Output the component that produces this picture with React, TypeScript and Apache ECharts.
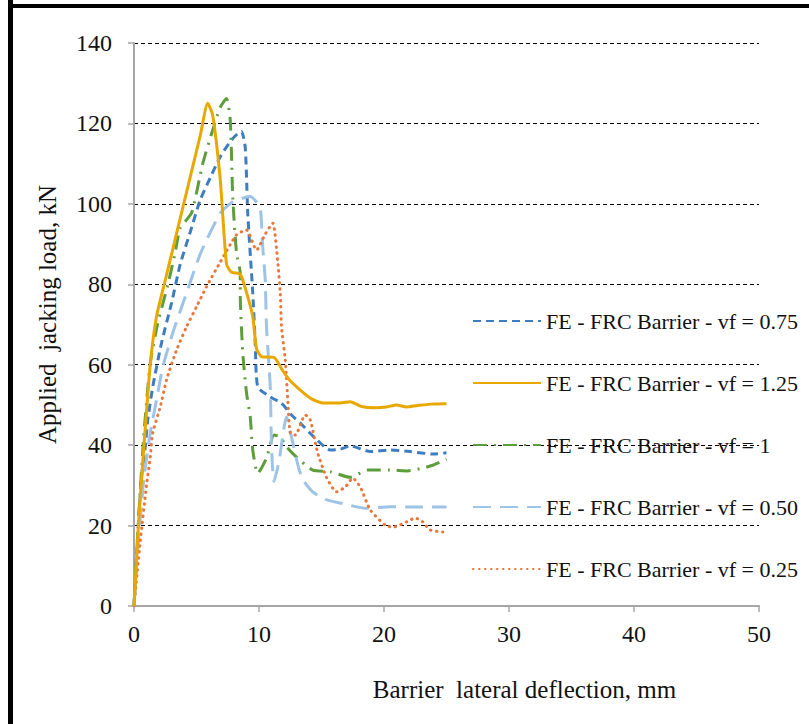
import React, { useEffect, useRef } from "react";
import * as echarts from "echarts";

const xTicks = [0, 10, 20, 30, 40, 50];
const yTicks = [0, 20, 40, 60, 80, 100, 120, 140];

const seriesNames = [
  "FE - FRC Barrier - vf = 0.75",
  "FE - FRC Barrier - vf = 1.25",
  "FE - FRC Barrier - vf = 1",
  "FE - FRC Barrier - vf = 0.50",
  "FE - FRC Barrier - vf = 0.25",
];

const vf075: number[][] = [
  [0, 0], [0.3, 18], [0.6, 32], [0.9, 39.6], [1.1, 46.3], [1.5, 54.5], [2.2, 65.4], [3.0, 75.3],
  [3.7, 85], [4.5, 93], [5.3, 101], [6.1, 106.5], [6.9, 111.7], [7.7, 115.5], [8.3, 117.5],
  [8.6, 118], [8.9, 114], [9.1, 97.7], [9.4, 82.8], [9.5, 78], [9.7, 65.4], [9.9, 54.5],
  [10.9, 52], [11.8, 50.4], [12.6, 47.5], [13.3, 45.5], [14.4, 42], [15.7, 38.8],
  [16.5, 39], [17.3, 39.8], [18.9, 38.4], [20.5, 38.8], [22.1, 38.4], [23.9, 37.8], [25, 38.1],
];

const vf125: number[][] = [
  [0, 0], [0.35, 20], [0.8, 40], [1.3, 60], [1.8, 72], [2.5, 81], [3.2, 90], [3.9, 99],
  [4.6, 108], [5.3, 117], [5.9, 125], [6.3, 122], [6.9, 106], [7.4, 85], [7.8, 83],
  [8.5, 82.5], [9.0, 78], [9.5, 72], [9.8, 64], [10.2, 62], [11.2, 61.8], [11.9, 58.5],
  [12.5, 56], [13.3, 53.7], [14.2, 51.5], [15.1, 50.5], [16.5, 50.5], [17.3, 50.8],
  [18.2, 49.6], [19.4, 49.3], [20.2, 49.5], [21, 50], [21.8, 49.5], [22.6, 49.8], [23.7, 50.2], [25, 50.3],
];

const vf1: number[][] = [
  [0, 0], [0.3, 18], [0.75, 41], [1.0, 50.5], [1.3, 60.4], [1.9, 70.3], [2.7, 79.8],
  [3.3, 88], [3.7, 94], [4.6, 97.7], [5.5, 110], [6.3, 118.4], [6.9, 124], [7.4, 126.2],
  [7.7, 120.8], [7.9, 101.7], [8.2, 87.8], [8.5, 82.8], [8.5, 77.8], [8.7, 63], [9.0, 53],
  [9.3, 47], [9.5, 38.8], [9.9, 33], [10.6, 36.8], [11.2, 42.5], [11.7, 42], [12.2, 39.6],
  [13, 37], [14.3, 33.8], [15.7, 33.4], [17.3, 32], [18.7, 33.8], [20.5, 33.8], [21.9, 33.6],
  [23.1, 34.3], [23.9, 35], [25, 36.5],
];

const vf050: number[][] = [
  [0, 0], [0.4, 18], [0.8, 32], [1.3, 43], [1.8, 51.2], [2.3, 59.4], [3.1, 67.9], [4.2, 77.8],
  [5.3, 87.5], [6.9, 97.7], [7.9, 100.5], [8.7, 101.4], [9.3, 101.8], [9.8, 100.5], [10.1, 99.2],
  [10.3, 89.3], [10.5, 81], [10.6, 69.4], [10.9, 54.5], [11.0, 39.6], [11.2, 31], [11.6, 36],
  [12.2, 47], [12.6, 42], [13.2, 34], [13.6, 31], [14.3, 28.4], [15.3, 26.5], [16.5, 25.6],
  [18.6, 24.3], [20.5, 24.7], [22.3, 24.6], [25, 24.6],
];

const vf025: number[][] = [
  [0, 0], [0.5, 16], [1.0, 30], [1.3, 37], [1.5, 43], [2.1, 49.5], [2.6, 56.2], [3.4, 63.6],
  [4.2, 69.4], [5.0, 74.4], [5.8, 79.4], [6.9, 85.5], [8.2, 92.3], [9.0, 93.5], [9.8, 88.5],
  [10.5, 92.5], [11.1, 95.2], [11.5, 85.5], [11.7, 77.8], [11.8, 69.4], [12.1, 61.2],
  [12.3, 51.2], [12.5, 43], [12.9, 42.5], [13.7, 47.5], [14.1, 46.3], [14.7, 38], [15.4, 32],
  [16.2, 28.4], [16.9, 29.6], [17.5, 31.8], [18.1, 29.6], [18.9, 23.9], [20.1, 20.1],
  [20.7, 19.6], [21.8, 20.9], [22.5, 21.9], [23.1, 20.9], [23.7, 18.9], [24.7, 18.4],
];

const seriesData = [vf075, vf125, vf1, vf050, vf025];
const colors = ["#3E7DC0", "#E8A800", "#5E9E3A", "#9DC3E6", "#E8773A"];
const dashes: any[] = [[8, 5], "solid", [14, 7, 2, 7], [18, 9], [0.5, 5.5]];

const FONT = "'Liberation Serif', 'DejaVu Serif', serif";

export default function App() {
  const ref = useRef<HTMLDivElement>(null);
  useEffect(() => {
    if (!ref.current) return;
    const chart = echarts.init(ref.current, undefined, { renderer: "svg" });
    chart.setOption({
      animation: false,
      backgroundColor: "#ffffff",
      grid: { left: 134, right: 50, top: 43, bottom: 118, containLabel: false },
      xAxis: {
        type: "value",
        min: xTicks[0],
        max: xTicks[xTicks.length - 1],
        interval: 10,
        name: "Barrier  lateral deflection, mm",
        nameLocation: "middle",
        nameGap: 71,
        nameTextStyle: { fontFamily: FONT, fontSize: 25, color: "#111", padding: [0, 0, 0, 156] },
        axisLine: { show: true, onZero: false, lineStyle: { color: "#A6A6A6", width: 2 } },
        axisTick: { show: true, length: 6, lineStyle: { color: "#A6A6A6", width: 1.5 } },
        axisLabel: { fontFamily: FONT, fontSize: 24, color: "#111", margin: 16 },
        splitLine: { show: false },
      },
      yAxis: {
        type: "value",
        min: yTicks[0],
        max: yTicks[yTicks.length - 1],
        interval: 20,
        name: "Applied  jacking load, kN",
        nameLocation: "middle",
        nameGap: 74,
        nameTextStyle: { fontFamily: FONT, fontSize: 25, color: "#111", padding: [0, 0, 0, 20] },
        axisLine: { show: true, lineStyle: { color: "#A6A6A6", width: 2 } },
        axisTick: { show: true, length: 6, lineStyle: { color: "#A6A6A6", width: 1.5 } },
        axisLabel: { fontFamily: FONT, fontSize: 24, color: "#111", margin: 22 },
        splitLine: { show: true, lineStyle: { color: "#000", width: 1, type: [4, 3] } },
      },
      legend: {
        orient: "vertical",
        left: 467,
        top: 305,
        itemWidth: 68,
        itemHeight: 22,
        itemGap: 40,
        data: seriesNames,
        itemStyle: { color: "transparent", borderWidth: 0, opacity: 0 },
        textStyle: { fontFamily: FONT, fontSize: 22, color: "#111", lineHeight: 22 },
      },
      series: seriesData.map((d, i) => ({
        name: seriesNames[i],
        type: "line",
        data: d,
        symbol: "none",
        showSymbol: false,
        smooth: 0.2,
        z: i === 1 ? 5 : 3,
        lineStyle: {
          color: colors[i],
          width: 3,
          type: dashes[i],
          cap: i === 4 ? "round" : "butt",
        },
        itemStyle: { color: colors[i] },
      })),
      graphic: [
        { type: "rect", left: 8, top: 0, shape: { width: 5, height: 724 }, style: { fill: "#000" }, silent: true },
        { type: "rect", left: 8, top: 4, shape: { width: 801, height: 4 }, style: { fill: "#000" }, silent: true },
      ],
    });
    return () => chart.dispose();
  }, []);
  return (
    <div
      ref={ref}
      style={{ position: "fixed", left: 0, top: 0, width: 809, height: 724 }}
    />
  );
}
